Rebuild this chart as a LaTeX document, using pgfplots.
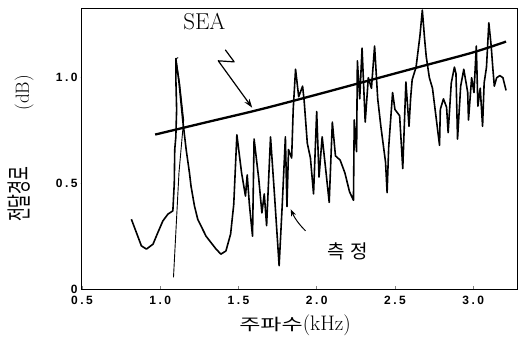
\documentclass[border=0pt]{standalone}
\usepackage{fontspec}
\usepackage{graphicx}
\usepackage{pgfplots}
\pgfplotsset{compat=1.18}
\usetikzlibrary{arrows.meta}
\newfontfamily\kr{Noto Sans CJK KR}
\newfontfamily\tickfont{Liberation Sans}[LetterSpace=20]

\pgfplotstableread{
x y
0.816 0.330
0.848 0.267
0.880 0.204
0.912 0.189
0.954 0.212
0.985 0.267
1.017 0.322
1.049 0.354
1.081 0.370
1.090 0.50
1.093 0.66
1.100 0.72
1.105 0.85
1.100 1.00
1.100 1.09
1.120 0.98
1.144 0.80
1.166 0.66
1.187 0.55
1.197 0.487
1.219 0.393
1.240 0.33
1.293 0.25
1.357 0.189
1.388 0.165
1.420 0.18
1.450 0.26
1.470 0.40
1.490 0.73
1.520 0.55
1.545 0.44
1.556 0.54
1.570 0.40
1.590 0.25
1.600 0.71
1.630 0.52
1.650 0.36
1.665 0.45
1.680 0.30
1.705 0.72
1.730 0.45
1.760 0.11
1.780 0.40
1.800 0.72
1.810 0.39
1.820 0.66
1.840 0.62
1.850 0.85
1.865 1.04
1.885 0.91
1.910 0.96
1.920 0.89
1.940 0.69
1.960 0.62
1.980 0.45
2.000 0.84
2.015 0.53
2.035 0.72
2.060 0.55
2.080 0.41
2.100 0.79
2.120 0.63
2.150 0.61
2.180 0.55
2.210 0.46
2.235 0.42
2.240 0.80
2.255 0.65
2.260 1.08
2.275 0.90
2.290 1.14
2.310 0.79
2.330 1.00
2.350 0.95
2.370 1.15
2.390 0.90
2.410 0.77
2.440 0.60
2.450 0.456
2.460 0.67
2.485 0.93
2.500 0.85
2.530 0.82
2.550 0.57
2.570 0.98
2.590 0.77
2.600 0.90
2.610 0.99
2.635 1.05
2.660 1.20
2.675 1.32
2.690 1.18
2.700 1.10
2.720 1.00
2.740 0.95
2.770 0.77
2.785 0.68
2.790 0.85
2.810 0.90
2.830 0.86
2.840 0.74
2.860 0.975
2.880 1.05
2.890 1.02
2.900 0.71
2.920 0.96
2.940 1.04
2.965 0.93
2.970 0.80
2.990 1.00
3.005 0.93
3.020 1.15
3.030 0.865
3.045 0.95
3.060 0.77
3.070 0.975
3.085 1.05
3.100 1.26
3.115 1.15
3.125 1.05
3.135 0.96
3.150 1.00
3.170 1.01
3.190 1.00
3.210 0.94
}\measured

\pgfplotstableread{
x y
1.085 0.055
1.120 0.55
1.150 0.80
1.125 0.97
1.100 1.09
1.115 1.095
}\thin

\pgfplotstableread{
x y
0.968 0.731
1.300 0.790
1.640 0.850
2.000 0.920
2.280 0.976
2.650 1.050
3.000 1.120
3.210 1.171
}\sea

\begin{document}
\begin{tikzpicture}
\begin{axis}[
  name=ax,
  scale only axis,
  width=436pt, height=281pt,
  xmin=0.494, xmax=3.28, ymin=0, ymax=1.33,
  xtick={0.5,1.0,1.5,2.0,2.5,3.0},
  xticklabels={0.5,1.0,1.5,2.0,2.5,3.0},
  ytick={0,0.5,1.0}, yticklabels={0,0.5,1.0},
  tick align=inside, tick pos=left,
  major tick length=3pt,
  ticklabel style={font=\tickfont\bfseries\fontsize{12}{13}\selectfont},
  xticklabel style={yshift=-4pt},
  xtick style={line width=0.8pt},
  ytick style={draw=none},
  axis line style={line width=0.9pt},
  xlabel={{\kr\scalebox{1}[0.7]{\fontsize{23}{23}\selectfont 주파수}}{\fontsize{21}{21}\selectfont(kHz)}},
  ylabel={{\kr\scalebox{0.6}[1]{\fontsize{25}{25}\selectfont 전달경로}}\hspace{56pt}{\fontsize{19}{19}\selectfont(dB)}},
  xlabel style={at={(axis description cs:0.491,-0.128)}, anchor=center},
  ylabel style={at={(axis description cs:-0.138,0.5)}, anchor=center},
]
\addplot[black, line width=1.6pt, line join=round] table[x=x,y=y] {\measured};
\addplot[black, line width=0.9pt, line join=round] table[x=x,y=y] {\thin};
\addplot[black, line width=2.3pt, smooth] table[x=x,y=y] {\sea};
\node[font=\fontsize{23}{23}\selectfont] at (axis cs:1.282,1.264) {SEA};
\draw[line width=1.2pt, line join=round, -{Stealth[length=9pt,width=6pt]}]
  (axis cs:1.416,1.132) -- (axis cs:1.473,1.075) -- (axis cs:1.371,1.080) -- (axis cs:1.588,0.858);
\draw[line width=1pt, -{Stealth[length=7pt,width=5pt]}]
  (axis cs:1.929,0.275) to[bend left=10] (axis cs:1.834,0.377);
\node[font=\kr\fontsize{19}{19}\selectfont] at (axis cs:2.198,0.18) {측\hspace{5pt}정};
\draw[line width=0.8pt, dash pattern=on 3pt off 2pt] (axis cs:0.494,0.5) -- ++(10pt,0);
\draw[line width=0.8pt, dash pattern=on 3pt off 2pt] (axis cs:0.494,1.0) -- ++(10pt,0);
\end{axis}
\pgfresetboundingbox
\path[use as bounding box] ([shift={(-81pt,-50pt)}]ax.south west) rectangle ([shift={(2pt,8pt)}]ax.north east);
\end{tikzpicture}
\end{document}
